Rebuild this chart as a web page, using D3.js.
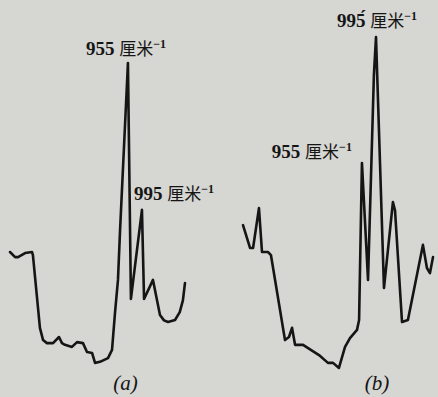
<!DOCTYPE html>
<html>
<head>
<meta charset="utf-8">
<script src="https://cdn.jsdelivr.net/npm/d3@7"></script>
<style>
  body { margin: 0; background: #d6d6d2; }
  svg { display: block; }
</style>
</head>
<body>
<div id="chart"></div>
<script>
// spectrum (a): relative position along the trace, signal height (0-100)
var posA = [0, 2.9, 4.6, 8.6, 12.6, 13.1, 17.1, 18.9, 21.1, 24.6, 28.0, 29.7, 31.4, 35.4, 38.3, 41.7, 44.0, 46.9, 48.6, 51.4, 56.0, 58.3, 60.0, 61.7, 62.9, 67.4, 69.1, 75.4, 76.6, 81.7, 85.7, 88.0, 90.3, 94.3, 97.0, 98.8, 100];
var valA = [34.7, 33.2, 33.2, 34.4, 34.7, 33.8, 12.4, 8.8, 7.9, 7.9, 9.7, 7.9, 7.4, 6.8, 8.2, 7.9, 5.3, 5.0, 2.1, 2.4, 3.5, 5.9, 16.8, 26.5, 41.2, 90.3, 20.9, 47.1, 20.9, 26.5, 16.2, 14.6, 14.1, 14.7, 17.0, 20.5, 25.6];

// spectrum (b)
var posB = [0, 3.7, 5.3, 8.4, 10.0, 13.2, 14.7, 22.1, 24.2, 25.8, 27.4, 31.6, 40.0, 44.7, 47.4, 50.5, 53.7, 56.3, 60.0, 61.1, 62.6, 65.8, 68.9, 70.0, 74.2, 78.9, 80.0, 83.7, 86.8, 94.7, 96.8, 98.4, 100];
var valB = [42.6, 35.9, 35.9, 47.6, 34.7, 34.7, 33.8, 8.8, 9.7, 12.4, 7.4, 7.4, 4.4, 2.1, 2.1, 0.6, 6.8, 9.4, 11.8, 14.7, 60.9, 26.5, 86.8, 97.9, 24.1, 49.4, 47.0, 14.1, 14.7, 36.8, 30.0, 28.5, 33.2];

var panelNames = ["(a)", "(b)"];
var peakLabels = ["955", "995"];
var peakLabelsB = ["955", "995\u0301"];

var w = 438, h = 397;

var svg = d3.select("#chart")
  .append("svg")
  .attr("width", w)
  .attr("height", h);

var y = d3.scaleLinear().domain([0, 100]).range([370, 30]);
var xA = d3.scaleLinear().domain([0, 100]).range([10, 185]);
var xB = d3.scaleLinear().domain([0, 100]).range([243, 433]);

function trace(xs, pos, val) {
  var pts = pos.map(function(p, i) { return [p, val[i]]; });
  var line = d3.line()
    .x(function(d) { return xs(d[0]); })
    .y(function(d) { return y(d[1]); });
  svg.append("path")
    .datum(pts)
    .attr("d", line)
    .attr("fill", "none")
    .attr("stroke", "#151515")
    .attr("stroke-width", 2.6)
    .attr("stroke-linejoin", "round")
    .attr("stroke-linecap", "round");
  return pts;
}

var ptsA = trace(xA, posA, valA);
var ptsB = trace(xB, posB, valB);

// label near a given peak point
function peakLabel(num, px, py, anchor) {
  var t = svg.append("text")
    .attr("x", px)
    .attr("y", py)
    .attr("text-anchor", anchor)
    .attr("fill", "#151515");
  t.append("tspan")
    .attr("font-family", "Liberation Serif, serif")
    .attr("font-weight", "bold")
    .attr("font-size", "19px")
    .text(num + " ");
  t.append("tspan")
    .attr("font-family", "Noto Sans CJK SC, sans-serif")
    .attr("font-size", "17px")
    .text("厘米");
  t.append("tspan")
    .attr("font-family", "Liberation Serif, serif")
    .attr("font-weight", "bold")
    .attr("font-size", "12px")
    .attr("dy", "-7")
    .text("−1");
}

// (a): main peak at index 25, second at 27
peakLabel(peakLabels[0], xA(posA[25]) - 2, y(valA[25]) - 8, "middle");
peakLabel(peakLabels[1], xA(posA[27]) - 8, y(valA[27]) - 10, "start");
// (b): 955 at index 20, 995 at index 23
peakLabel(peakLabelsB[0], xB(posB[20]) - 10, y(valB[20]) - 5, "end");
peakLabel(peakLabelsB[1], xB(posB[23]) + 1, y(valB[23]) - 10, "middle");

svg.selectAll("text.panel")
  .data(panelNames)
  .enter()
  .append("text")
  .attr("class", "panel")
  .attr("x", function(d, i) { return i === 0 ? xA(66) : xB(70.5); })
  .attr("y", 390)
  .attr("text-anchor", "middle")
  .attr("font-family", "Liberation Serif, serif")
  .attr("font-style", "italic")
  .attr("font-size", "21px")
  .attr("fill", "#151515")
  .text(function(d) { return d; });
</script>
</body>
</html>
